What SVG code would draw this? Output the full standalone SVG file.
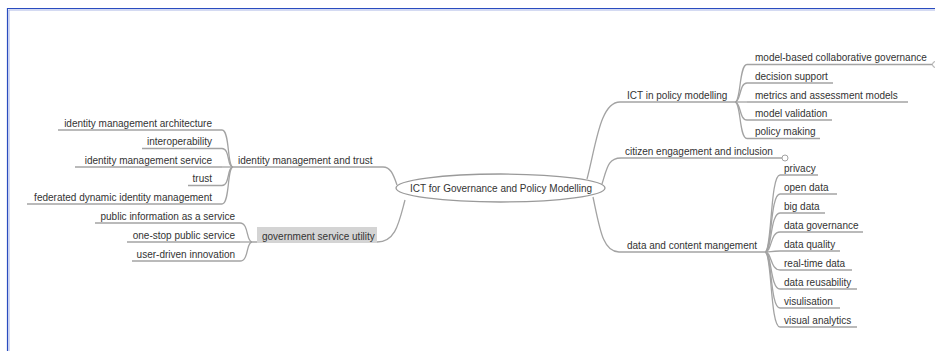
<svg xmlns="http://www.w3.org/2000/svg" width="935" height="351" viewBox="0 0 935 351">
  <style>
    text { font-family: "Liberation Sans", Arial, sans-serif; font-size: 10px; fill: #333; }
    .end { text-anchor: end; }
    .ul { stroke: #a3a3a3; stroke-width: 1.3; fill: none; }
    .conn path { stroke: #a3a3a3; stroke-width: 1.3; fill: none; }
    .fold { fill: #fff; stroke: #a3a3a3; stroke-width: 1; }
  </style>

  <!-- frame -->
  <rect x="0" y="0" width="935" height="351" fill="#fff"/>
  <path d="M7.5,351 V8.5 H935" fill="none" stroke="#2a4cbf" stroke-width="1.2"/>
  <path d="M9,351 V10 H935" fill="none" stroke="#a9b6e6" stroke-width="1"/>

  <!-- connectors -->
  <g id="connectors" class="conn">
    <!-- root to main topics -->
    <path d="M397,185 C393,173 390,167 383,167"/>
    <path d="M405,200 C399,222 396,242 377,242"/>
    <path d="M587,179 C596,145 600,102 620,102"/>
    <path d="M602,184 C607,168 608,158 621,158"/>
    <path d="M593,197 C600,230 603,252 619,252"/>
    <!-- identity management and trust -->
    <path d="M233,167 C227,167 230,130 222,130"/>
    <path d="M233,167 C227,167 230,148.5 222,148.5"/>
    <path d="M233,167 H222"/>
    <path d="M233,167 C227,167 230,185.5 222,185.5"/>
    <path d="M233,167 C227,167 230,204 222,204"/>
    <!-- government service utility -->
    <path d="M252,242 C246,242 249,223 240,223"/>
    <path d="M252,242 H240"/>
    <path d="M252,242 C246,242 249,261 240,261"/>
    <!-- ICT in policy modelling -->
    <path d="M735,102 C741,102 739,64.5 747,64.5"/>
    <path d="M735,102 C741,102 739,83 747,83"/>
    <path d="M735,102 H747"/>
    <path d="M735,102 C741,102 739,120 747,120"/>
    <path d="M735,102 C741,102 739,138.5 747,138.5"/>
    <!-- data and content mangement -->
    <path d="M765,252 C772,252 770,175 780,175"/>
    <path d="M765,252 C772,252 770,194 780,194"/>
    <path d="M765,252 C772,252 770,213 780,213"/>
    <path d="M765,252 C772,252 770,232 780,232"/>
    <path d="M765,252 C772,252 770,251 780,251"/>
    <path d="M765,252 C772,252 770,270 780,270"/>
    <path d="M765,252 C772,252 770,289 780,289"/>
    <path d="M765,252 C772,252 770,308 780,308"/>
    <path d="M765,252 C772,252 770,327 780,327"/>
  </g>

  <!-- central topic -->
  <g id="root">
    <ellipse cx="500.5" cy="188" rx="104.5" ry="14" fill="#fff" stroke="#9a9a9a" stroke-width="1.3"/>
    <text x="410" y="191.5">ICT for Governance and Policy Modelling</text>
  </g>

  <!-- left: identity management and trust -->
  <g id="identity-trust">
    <path class="ul" d="M233,167 H383"/>
    <text x="238" y="163.5">identity management and trust</text>
  </g>
  <g id="idm-architecture">
    <path class="ul" d="M58,130 H222"/>
    <text class="end" x="212" y="126.5">identity management architecture</text>
  </g>
  <g id="interoperability">
    <path class="ul" d="M142,148.5 H222"/>
    <text class="end" x="212" y="145">interoperability</text>
  </g>
  <g id="idm-service">
    <path class="ul" d="M75,167 H222"/>
    <text class="end" x="212" y="163.5">identity management service</text>
  </g>
  <g id="trust">
    <path class="ul" d="M188,185.5 H222"/>
    <text class="end" x="212" y="182">trust</text>
  </g>
  <g id="federated-idm">
    <path class="ul" d="M27,204 H222"/>
    <text class="end" x="212" y="200.5">federated dynamic identity management</text>
  </g>

  <!-- left: government service utility -->
  <g id="gov-service-utility">
    <path class="ul" d="M252,242 H377"/>
    <rect x="257" y="227" width="120" height="16" fill="#d4d4d4"/>
    <text x="262" y="239.5">government service utility</text>
  </g>
  <g id="public-info-service">
    <path class="ul" d="M95,223 H240"/>
    <text class="end" x="235" y="219.5">public information as a service</text>
  </g>
  <g id="one-stop">
    <path class="ul" d="M127,242 H240"/>
    <text class="end" x="235" y="238.5">one-stop public service</text>
  </g>
  <g id="user-driven">
    <path class="ul" d="M132,261 H240"/>
    <text class="end" x="235" y="257.5">user-driven innovation</text>
  </g>

  <!-- right: ICT in policy modelling -->
  <g id="ict-policy">
    <path class="ul" d="M620,102 H735"/>
    <text x="627" y="98.5">ICT in policy modelling</text>
  </g>
  <g id="model-based">
    <path class="ul" d="M747,64.5 H932"/>
    <circle class="fold" cx="935.5" cy="64.5" r="3"/>
    <text x="755" y="61">model-based collaborative governance</text>
  </g>
  <g id="decision-support">
    <path class="ul" d="M747,83 H833"/>
    <text x="755" y="79.5">decision support</text>
  </g>
  <g id="metrics">
    <path class="ul" d="M747,102 H908"/>
    <text x="755" y="98.5">metrics and assessment models</text>
  </g>
  <g id="model-validation">
    <path class="ul" d="M747,120 H832"/>
    <text x="755" y="116.5">model validation</text>
  </g>
  <g id="policy-making">
    <path class="ul" d="M747,138.5 H820"/>
    <text x="755" y="135">policy making</text>
  </g>

  <!-- right: citizen engagement -->
  <g id="citizen">
    <path class="ul" d="M621,158 H782"/>
    <circle class="fold" cx="785" cy="158" r="3"/>
    <text x="625" y="154.5">citizen engagement and inclusion</text>
  </g>

  <!-- right: data and content mangement -->
  <g id="data-content">
    <path class="ul" d="M619,252 H765"/>
    <text x="627" y="248.5">data and content mangement</text>
  </g>
  <g id="privacy">
    <path class="ul" d="M780,175 H818"/>
    <text x="784" y="171.5">privacy</text>
  </g>
  <g id="open-data">
    <path class="ul" d="M780,194 H837"/>
    <text x="784" y="190.5">open data</text>
  </g>
  <g id="big-data">
    <path class="ul" d="M780,213 H825"/>
    <text x="784" y="209.5">big data</text>
  </g>
  <g id="data-governance">
    <path class="ul" d="M780,232 H863"/>
    <text x="784" y="228.5">data governance</text>
  </g>
  <g id="data-quality">
    <path class="ul" d="M780,251 H840"/>
    <text x="784" y="247.5">data quality</text>
  </g>
  <g id="real-time">
    <path class="ul" d="M780,270 H852"/>
    <text x="784" y="266.5">real-time data</text>
  </g>
  <g id="reusability">
    <path class="ul" d="M780,289 H857"/>
    <text x="784" y="285.5">data reusability</text>
  </g>
  <g id="visulisation">
    <path class="ul" d="M780,308 H840"/>
    <text x="784" y="304.5">visulisation</text>
  </g>
  <g id="visual-analytics">
    <path class="ul" d="M780,327 H857"/>
    <text x="784" y="323.5">visual analytics</text>
  </g>
</svg>
